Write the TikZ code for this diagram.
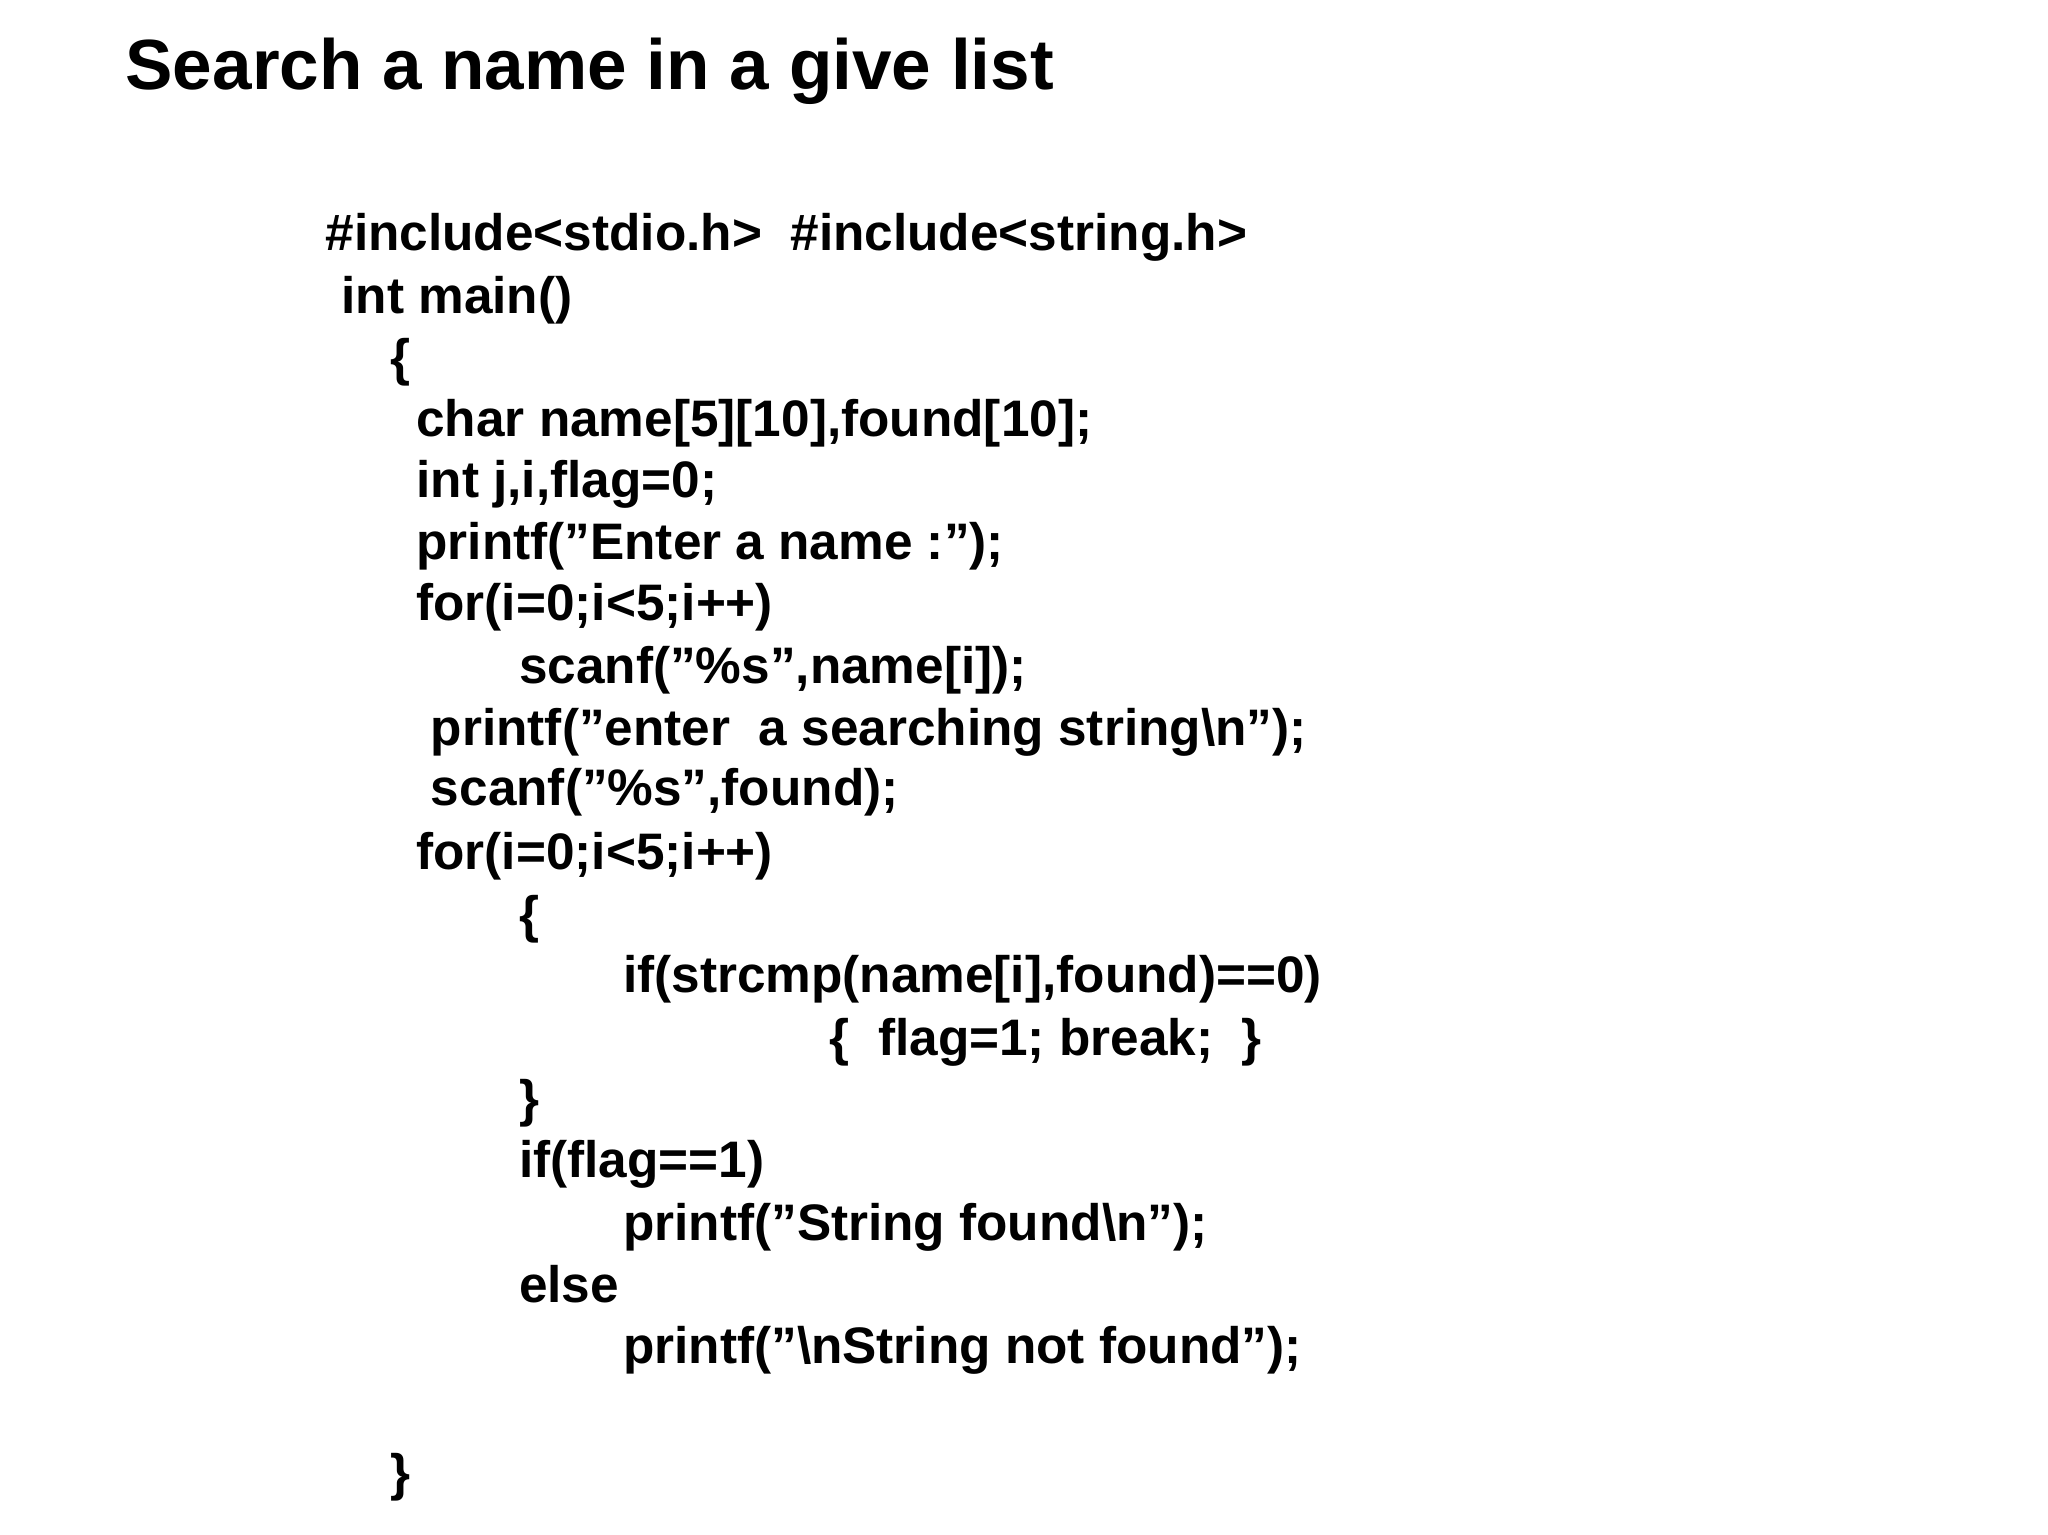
\documentclass[tikz,border=0pt]{standalone}
\usepackage{fontspec}
\setmainfont{Liberation Sans}
\begin{document}
\begin{tikzpicture}[x=0.5pt,y=-0.5pt,
  code/.style={anchor=mid west,inner sep=0pt,font=\fontsize{19.5pt}{23pt}\bfseries},
  ttl/.style={anchor=mid west,inner sep=0pt,font=\fontsize{27pt}{32pt}\bfseries}]
\useasboundingbox (0,0) rectangle (1556,1166);
\node[ttl] (t) at (95,63) {Search a name in a give list};
\node[code] (l1) at (247,185) {\#include<stdio.h>\ \ \#include<string.h>};
\node[code] (l2) at (259,233) {int main()};
\node[code] (l3) at (296,280) {\{};
\node[code] (l4) at (316,326) {char name[5][10],found[10];};
\node[code] (l5) at (316,373) {int j,i,flag=0;};
\node[code] (l6) at (316,420) {printf("Enter a name :");};
\node[code] (l7) at (316,466) {for(i=0;i<5;i++)};
\node[code] (l8) at (394,514) {scanf("\%s",name[i]);};
\node[code] (l9) at (327,561) {printf("enter\ \ a searching string\textbackslash n");};
\node[code] (l10) at (327,607) {scanf("\%s",found);};
\node[code] (l11) at (316,655) {for(i=0;i<5;i++)};
\node[code] (l12) at (394,703) {\{};
\node[code] (l13) at (473,749) {if(strcmp(name[i],found)==0)};
\node[code] (l14) at (630,797) {\{\ \ flag=1; break;\ \ \}};
\node[code] (l15) at (394,843) {\}};
\node[code] (l16) at (394,889) {if(flag==1)};
\node[code] (l17) at (473,937) {printf("String found\textbackslash n");};
\node[code] (l18) at (394,984) {else};
\node[code] (l19) at (473,1031) {printf("\textbackslash nString not found");};
\node[code] (l20) at (296,1127) {\}};
\end{tikzpicture}
\end{document}
